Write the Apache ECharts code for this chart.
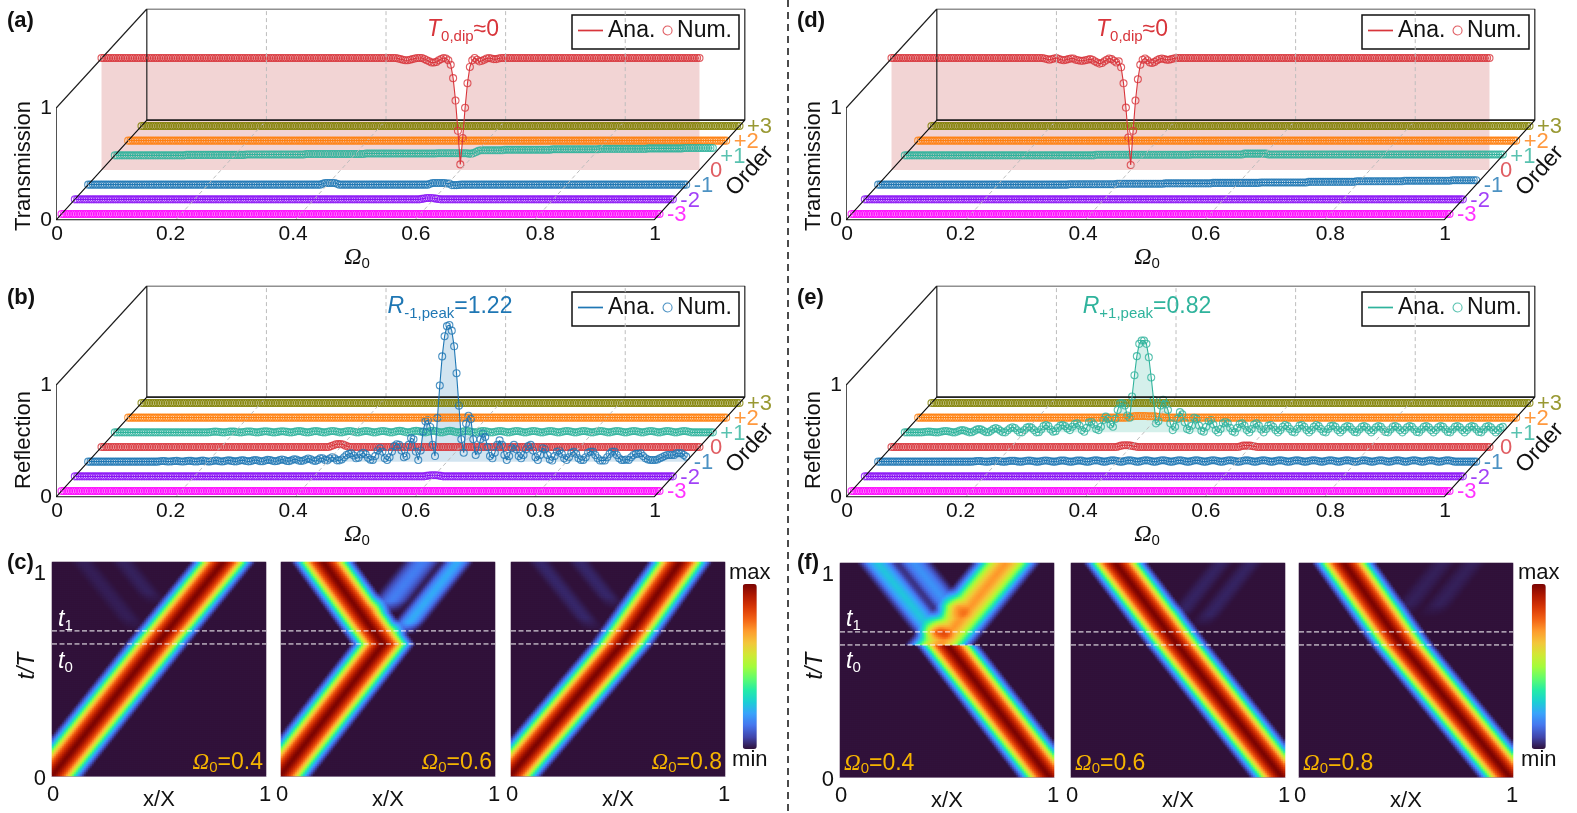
<!DOCTYPE html>
<html><head><meta charset="utf-8"><style>html,body{margin:0;padding:0;background:#fff}#c{width:1577px;height:813px}</style>
<script src="https://cdn.jsdelivr.net/npm/echarts@6/dist/echarts.min.js"></script></head><body><div id="c"></div>
<script>
// ---------- values ----------
const orderValues=[3,2,1,0,-1,-2,-3];
const orderNames={'3':'+3','2':'+2','1':'+1','0':'0','-1':'-1','-2':'-2','-3':'-3'};
const orderColors={'3':'#808000','2':'#ff7f0e','1':'#2fb39c','0':'#d8353b','-1':'#1f77b4','-2':'#8a12f5','-3':'#ff00ff'};
const xTicks=[0,0.2,0.4,0.6,0.8,1];
// omega step of the sampled points
const omegaStep=0.004, omegaCount=251;
// patches: [first sample index, [values]]
const T0a=[[124,[.995,.99,.985,.98,.98,.985,.99,.995,1,1,1,.99,.98,.97,.96,.96,.965,.98,.99,1,.995,.98,.94,.82,.62,.35,.05,.285,.556,.775,.92,.98,1,.985,.97,.975,.985,.995,1,.995,.99,.99,.995]]];
const Tp1a=[[0,[0]],[30,Array(25).fill(.004)],[55,Array(25).fill(.008)],[80,Array(25).fill(.012)],[105,Array(30).fill(.016)],[135,Array(13).fill(.019)],[148,[.015,.015,.02,.03,.04]],[153,Array(10).fill(.045)],[163,Array(20).fill(.05)],[183,Array(20).fill(.054)],[203,Array(20).fill(.058)],[223,Array(15).fill(.062)],[238,Array(13).fill(.066)]];
const Tm1a=[[98,[.008,.015,.015,.015,.015,.015,.008]],[143,[.008,.015,.015,.015,.015,.015,.015,.01,.01,-.004,-.004,-.004,-.002]]];
const Tm2a=[[145,[.004,.008,.012,.012,.012,.01,.006,.003]]];
const T0d=[[64,[.995,.99,.985,.99,.995,1,.99,.985,.98,.985,.99,.995,.995,.985,.98,.975,.975,.98,.985,.99,.985,.97,.96,.95,.955,.97,.985,.995,.99,.975,.96,.97,.917,.774,.557,.29,.045,.35,.62,.81,.94,.985,.995,.98,.96,.955,.965,.98,.99,.995,.99,.985,.985,.99,.995]]];
const Tp1d=[[80,Array(40).fill(.005)],[120,Array(22).fill(.008)],[142,Array(10).fill(.015)],[152,Array(99).fill(.008)]];
const Tm1d=[[80,Array(20).fill(.004)],[100,Array(20).fill(.008)],[120,Array(20).fill(.012)],[140,Array(20).fill(.016)],[160,Array(20).fill(.02)],[180,Array(20).fill(.025)],[200,Array(20).fill(.03)],[220,Array(20).fill(.035)],[240,Array(11).fill(.04)]];
const Rm1b=[[30,[.004,.006,.005,.002,.001,.003,.006,.007,.004,.001,.002,.005,.008,.007,.003,.001,.003,.007,.009,.006,.002,.002,.006,.01,.009,.004,.002,.005,.01,.012,.007,.003,.003,.008,.013,.012,.006,.003,.005,.012,.015,.01,.004,.004,.01,.016,.015,.008,.004,.006,.014,.02,.015,.006,.005,.012,.021,.019,.01,.006,.01,.02,.028,.022,.01,.006,.016,.03,.03,.016]],
[100,[.012,.028,.04,.03,.012,.012,.02,.04,.06,.07,.075,.055,.03,.035,.065,.08,.065,.035,.018,.015,.05,.10,.12,.09,.03,.015,.04,.09,.14,.155,.15,.10,.04,.05,.15,.21,.20,.09,.015,.10,.27,.36,.37,.31,.15,.05,.39,.68,.94,1.12,1.21,1.22,1.17,1.03,.79,.50,.20,.08,.34,.41,.38,.20,.06,.10,.20,.25,.22,.13,.05,.03,.08,.15,.19,.15,.06,.015,.05,.12,.15,.11,.05,.03,.06,.11,.14,.15,.10,.04,.015,.06,.12,.11,.06,.02,.01,.05,.09,.10,.07,.03,.015,.04,.08,.09,.07,.03,.015,.015,.04,.08,.09,.09,.06,.03,.01,.01,.01,.04,.07,.09,.09,.06,.03,.015,.015,.02,.015,.04,.06,.07,.07,.075,.05,.03,.02,.015,.015,.015,.02,.03,.04,.05,.06,.06,.06,.06,.075,.075,.075,.06,.045]]];
const R0b=[[96,[.008,.016,.024,.026,.026,.022,.012,.004]]];
const Rm2b=[[147,[.004,.008,.01,.01,.01,.008,.004]]];
const lowRipple=[[40,[.002,.005,.006,.005,.002,0,0,.003,.006,.007,.006,.003,0,0,.003,.007,.008,.007,.003,0,0,.004,.008,.009,.008,.004,0,0,.004,.008,.01,.008,.004,0,0,.004,.009,.011,.009,.004,0,0,.004,.009,.011,.009,.004,0,0,.005,.01,.012,.01,.005,0,0,.005,.01,.012,.01,.005,0,0,.005,.01,.012,.01,.005,0,0,.005,.01,.012,.01,.005,0,0,.005,.011,.013,.011,.005,0,0,.005,.011,.013,.011,.005,0,0,.005,.011,.013,.011,.005,0,0,.005,.011,.013,.011,.005,0,0,.005,.01,.013,.01,.005,0,0,.005,.01,.012,.01,.005,0,0,.005,.01,.012,.01,.005,0,0,.005,.01,.012,.01,.005,0,0,.005,.01,.012,.01,.005,0,0,.005,.01,.012,.01,.005,0,0,.005,.01,.012,.01,.005,0,0,.005,.01,.012,.01,.005,0,0,.005,.01,.012,.01,.005,0,0,.005,.01,.012,.01,.005,0,0,.005,.01,.012,.01,.005,0,0,.005,.01,.012,.01,.005,0,0,.005,.01,.012,.01,.005,0,0,.005,.01,.012,.01,.005,0]]];
const Rp1e=[[7,[0,.002,.005,.006,.005,.002,0,0,.005,.01,.012,.01,.005,0,0,.008,.016,.02,.016,.008,0,.001,.012,.024,.03,.024,.012,.001,.001,.014,.03,.038,.03,.014,.001,0,.018,.037,.045,.038,.018,0,0,.02,.042,.05,.04,.02,0,.001,.025,.055,.065,.055,.025,.006,.01,.04,.06,.065,.055,.035,.02,.05,.075,.08,.06,.02,.005,.04,.09,.095,.07,.03,.02,.05,.11,.14,.12,.07,.05,.12,.2,.26,.26,.24,.15,.13,.32,.51,.68,.79,.82,.82,.79,.67,.49,.29,.08,.10,.24,.29,.25,.2,.08,.02,.05,.12,.18,.16,.09,.03,.02,.06,.13,.12,.06,.015,.006,.05,.10,.11,.07,.02,0,.03,.08,.095,.08,.04,.01,0,.04,.075,.08,.06,.02,0,.03,.07,.08,.06,.025,0,.03,.06,.065,.05,.02,0,.02,.05,.065,.055,.03,.005,0,.03,.06,.065,.05,.02,0,.02,.05,.065,.055,.03,.005,0,.03,.055,.06,.05,.02,0,.02,.045,.055,.05,.025,.003,0,.025,.05,.055,.045,.02,0,.02,.045,.055,.05,.025,.003,0,.025,.05,.055,.045,.02,0,.02,.045,.055,.05,.025,.003,0,.025,.05,.055,.045,.02,0,.02,.045,.055,.05,.025,.003,0,.025,.05,.055,.045,.02,0,.02,.045,.055,.05,.025,.003,0,.025,.05,.055,.045,.02,0,.02,.04,.05]]];
const R0e=[[95,[.006,.012,.015,.015,.015,.012,.008,.004]],[146,[.006,.012,.012,.012,.012,.008,.004]]];
const Rp2e=[[88,[.004,.008,.012,.015,.015,.015,.015,.015,.012,.012,.012,.012,.008,.008,.004]]];
// peak / dip annotations
const annotationValues={a:'≈0',b:'=1.22',d:'≈0',e:'=0.82'};
// series table per panel: [base value, patches]
const panelSeries={
 a:{'3':[0,[]],'2':[0,[]],'1':[0,Tp1a],'0':[1,T0a],'-1':[0,Tm1a],'-2':[0,Tm2a],'-3':[0,[]]},
 b:{'3':[0,[]],'2':[0,[]],'1':[0,lowRipple],'0':[0,R0b],'-1':[0,Rm1b],'-2':[0,Rm2b],'-3':[0,[]]},
 d:{'3':[0,[]],'2':[0,[]],'1':[0,Tp1d],'0':[1,T0d],'-1':[0,Tm1d],'-2':[0,[]],'-3':[0,[]]},
 e:{'3':[0,[]],'2':[0,Rp2e],'1':[0,Rp1e],'0':[0,R0e],'-1':[0,lowRipple],'-2':[0,[]],'-3':[0,[]]}
};
// heat map beams: [t start, x at start, t end, x at end, amplitude, width, soft start]
const t0Line=0.617, t1Line=0.678;
const beamProfile=[1,.985,.96,.925,.885,.84,.79,.72,.65,.57,.48,.39,.30,.22,.15,.09,.04,0];
const heatC1=[[0,0,.617,.49,1,.05,0],[.617,.49,1,.80,1,.05,0],[.68,.404,1,.148,.018,.021,.06],[.8,.496,1,.336,.022,.021,.06]];
const heatC2=[[0,-.005,.617,.478,1,.05,0],[.617,.478,1,.2,1,.05,0],[.76,.468,1,.66,.16,.032,.06],[.66,.553,1,.825,.23,.026,.06]];
const heatC3=[[0,-.006,.617,.518,1,.05,0],[.617,.518,1,.79,1,.05,0],[.68,.393,1,.137,.03,.02,.06],[.78,.499,1,.323,.03,.02,.06]];
const heatF1=[[0,.98,.617,.505,1,.05,0],[.617,.465,1,.775,.72,.054,0],[.64,.466,1,.178,.27,.033,.04],[.74,.557,1,.349,.19,.031,.06]];
const heatF2=[[0,.987,.617,.50,1,.05,0],[.617,.50,1,.21,1,.05,0],[.72,.476,1,.70,.025,.021,.06],[.7,.6,1,.84,.025,.021,.06]];
const heatF3=[[0,.987,.617,.483,1,.05,0],[.617,.483,1,.213,1,.05,0],[.75,.47,1,.67,.02,.023,.06],[.75,.61,1,.81,.02,.023,.06]];
const turbo=['#30123b','#4145ab','#4675ed','#39a2fc','#1bcfd4','#24eca6','#61fc6c','#a4fc3b','#d1e834','#f3c63a','#fe9b2d','#f36315','#d93806','#b11901','#7a0403'];
const heatTitles=['0.4','0.6','0.8'];

// ---------- layout ----------
const SX=598, SZ=112, WID=688, HGT=211;
const xOff=k=>44.5+13.33*k, yOff=k=>50+14.67*k;
const project=(om,k,v)=>[om+xOff(k)/SX, v+yOff(k)/SZ];
const omegas=Array.from({length:omegaCount},(_,i)=>+(i*omegaStep).toFixed(3));
const expand=(base,patches)=>{const a=omegas.map(()=>base);patches.forEach(([s,vals])=>vals.forEach((v,i)=>{if(s+i<a.length)a[s+i]=v}));return a};
const series=[],grid=[],xAxis=[],yAxis=[],legend=[],graphic=[];
const FONT='"Liberation Sans",Arial,sans-serif';
const SERIF='"Liberation Serif",serif';
const meas=document.createElement('canvas').getContext('2d');
function textEl(x,y,t,font,fill,opt){opt=opt||{};return {type:'text',x:x,y:y,z:100,silent:true,rotation:opt.rotation||0,style:{text:t,font:font,fill:fill,textAlign:opt.align||'left',textVerticalAlign:'middle',align:opt.align||'left',verticalAlign:'middle'}}}
function runText(cx,y,parts,color,align){const fonts=parts.map(p=>`${p.st||''} ${p.size}px ${p.fam||FONT}`);let w=0;const ws=parts.map((p,i)=>{meas.font=fonts[i];const m=meas.measureText(p.t).width;w+=m;return m});let x=align==='left'?cx:align==='right'?cx-w:cx-w/2;parts.forEach((p,i)=>{graphic.push(textEl(x,y+(p.dy||0),p.t,fonts[i],color));x+=ws[i]})}
function addFrameLine(g,pts,color,width,dash){series.push({type:'line',xAxisIndex:g,yAxisIndex:g,data:pts,symbol:'none',silent:true,lineStyle:{color:color,width:width,type:dash||'solid',cap:'butt'},animation:false})}
const tickPad={'0.2':[0,12,0,0],'0.4':[0,6,0,0],'0.8':[0,0,0,10]};

function addPanel(id,x0,y0,title,hi,label,annCenter,annParts){
 const g=grid.length;
 grid.push({left:x0,top:y0-HGT,width:WID,height:HGT,outerBoundsMode:'none'});
 xAxis.push({type:'value',gridIndex:g,min:0,max:WID/SX,interval:.2,axisLine:{show:false},axisTick:{show:false},splitLine:{show:false},
  axisLabel:{margin:4,fontSize:21,fontFamily:FONT,color:'#111',
   formatter:v=>{if(!xTicks.some(t=>Math.abs(t-v)<1e-6))return '';if(Math.abs(v)<1e-6)return '0';if(Math.abs(v-1)<1e-6)return '1';const s=v.toFixed(1);return `{p${s.replace('.','')}|${s}}`},
   rich:{p02:{fontSize:21,fontFamily:FONT,padding:tickPad['0.2']},p04:{fontSize:21,fontFamily:FONT,padding:tickPad['0.4']},p06:{fontSize:21,fontFamily:FONT},p08:{fontSize:21,fontFamily:FONT,padding:tickPad['0.8']}}}});
 yAxis.push({type:'value',gridIndex:g,min:0,max:HGT/SZ,interval:1,axisLine:{show:false},axisTick:{show:false},splitLine:{show:false},
  axisLabel:{margin:5,fontSize:21,fontFamily:FONT,color:'#111',formatter:v=>v<=1?String(v):''}});
 const D=3.4;
 [.2,.4,.6,.8].forEach(t=>{
  addFrameLine(g,[project(t,-D,0),project(t,D,0)],'#bdbdbd',1,[4,3]);
  const bk=project(t,D,0);addFrameLine(g,[bk,[bk[0],HGT/SZ]],'#bdbdbd',1,[4,3]);
 });
 const A=project(0,-D,0),B=project(1,-D,0),C=project(1,D,0),E=project(0,D,0);
 const top=HGT/SZ;
 addFrameLine(g,[[A[0],A[1]],[A[0],1],[E[0],top],[C[0],top],[C[0],C[1]],E,[E[0],top]],'#222',1.2);
 addFrameLine(g,[C,E,A,B,C],'#111',1.2);
 orderValues.forEach(k=>{
  const [base,patches]=panelSeries[id][k];
  const vals=expand(base,patches);
  const color=orderColors[k];
  const pts=vals.map((v,i)=>project(omegas[i],k,v));
  if(k===hi){
   const basePt=[project(omegas[0],k,0),project(omegas[omegaCount-1],k,0)];
   const poly=pts.concat([basePt[1],basePt[0]]);
   series.push({type:'custom',xAxisIndex:g,yAxisIndex:g,silent:true,animation:false,coordinateSystem:'cartesian2d',data:[poly[0]],encode:{x:0,y:1},clip:false,
    renderItem:(p,api)=>({type:'polygon',shape:{points:poly.map(q=>api.coord(q))},style:{fill:k===0?'#c02a2a':color,opacity:.2}})});
  }
  series.push({type:'line',name:k===hi?'Ana.|'+id:undefined,xAxisIndex:g,yAxisIndex:g,data:pts,symbol:'none',silent:true,animation:false,lineStyle:{color:color,width:1.1},itemStyle:{color:color}});
  series.push({type:'scatter',name:k===hi?'Num.|'+id:undefined,xAxisIndex:g,yAxisIndex:g,data:pts,symbol:'circle',symbolSize:7,silent:true,animation:false,itemStyle:{color:'rgba(0,0,0,0)',borderColor:color,borderWidth:1.1}});
 });
 series.push({type:'scatter',xAxisIndex:g,yAxisIndex:g,symbolSize:1,silent:true,animation:false,itemStyle:{color:'rgba(0,0,0,0)'},
  data:orderValues.map(k=>({value:project(1,k,-.012),label:{show:true,position:'right',distance:k===0?10:7,formatter:orderNames[k],fontSize:22,fontFamily:FONT,color:orderColors[k]}}))});
 const c=orderColors[hi];
 const lx=x0+515, ly=y0-205;
 graphic.push({type:'rect',z:3,silent:true,shape:{x:lx,y:ly,width:167,height:34},style:{fill:'#fff',stroke:'#111',lineWidth:1.5}});
 legend.push({z:10,left:lx+6,top:ly+4,padding:0,itemWidth:25,itemHeight:1.7,selectedMode:false,data:[{name:'Ana.|'+id,icon:'rect',itemStyle:{color:c,borderWidth:0},lineStyle:{width:0}}],formatter:n=>n.split('|')[0],textStyle:{fontSize:23,fontFamily:FONT,color:'#111'}});
 legend.push({z:10,left:lx+90.5,top:ly+4,padding:0,itemWidth:9,itemHeight:9,selectedMode:false,data:[{name:'Num.|'+id,icon:'circle',itemStyle:{color:'rgba(0,0,0,0)',borderColor:c,borderWidth:1.1}}],formatter:n=>n.split('|')[0],textStyle:{fontSize:23,fontFamily:FONT,color:'#111'}});
 graphic.push(textEl(x0-33,y0-(id==='a'||id==='d'?54:57),title,`22px ${FONT}`,'#111',{rotation:Math.PI/2,align:'center'}));
 graphic.push(textEl(x0+693,y0-49,'Order',`23px ${FONT}`,'#111',{rotation:.84,align:'center'}));
 graphic.push(textEl(x0-50,y0-199,label,`bold 22px ${FONT}`,'#111'));
 runText(x0+300,y0+38,[{t:'Ω',size:24,st:'italic',fam:SERIF},{t:'0',size:15,dy:6}],'#111');
 runText(annCenter,y0-190,annParts,c);
}
const ann=(a,b,v)=>[{t:a,size:23,st:'italic'},{t:b,size:15,dy:7},{t:v,size:23}];
addPanel('a',57,220,'Transmission',0,'(a)',463,ann('T','0,dip',annotationValues.a));
addPanel('b',57,497,'Reflection',-1,'(b)',450,ann('R','-1,peak',annotationValues.b));
addPanel('d',847,220,'Transmission',0,'(d)',1132,ann('T','0,dip',annotationValues.d));
addPanel('e',847,497,'Reflection',1,'(e)',1147,ann('R','+1,peak',annotationValues.e));

// heat maps
const CELLS=107, cats=Array.from({length:CELLS},(_,i)=>i);
function profile(d){const u=Math.abs(d)/.01;const i=Math.floor(u);if(i>=beamProfile.length-1)return 0;return beamProfile[i]+(beamProfile[i+1]-beamProfile[i])*(u-i)}
function heatCells(beams){const out=[];for(let r=0;r<CELLS;r++){const t=(r+.5)/CELLS;for(let c=0;c<CELLS;c++){const x=(c+.5)/CELLS;let v=0;
  beams.forEach(([ts,xs,te,xe,amp,w,soft])=>{if(t<ts||t>te)return;const cen=xs+(xe-xs)*(t-ts)/(te-ts);const fade=soft?Math.min(1,(t-ts)/soft):1;v+=amp*fade*profile((x-cen)*.055/w)});
  out.push([c,r,+Math.min(1,v).toFixed(3)])}}return out}
const heatIdx=[[],[]];
function addHeat(side,left,top,beams,showY,title,titleAlign){
 const g=grid.length;
 grid.push({left:left,top:top,width:214,height:214,outerBoundsMode:'none'});
 xAxis.push({type:'category',gridIndex:g,data:cats,name:'x/X',nameLocation:'middle',nameGap:24,nameMoveOverlap:false,nameTextStyle:{fontSize:22,fontFamily:FONT,color:'#111',verticalAlign:'middle'},
  axisLine:{show:true,lineStyle:{color:'#a596ad',width:1}},axisTick:{show:false},splitLine:{show:false},
  axisLabel:{margin:8,fontSize:22,fontFamily:FONT,color:'#111',interval:0,formatter:(v,i)=>i===0?'0':i===CELLS-1?'1':''}});
 yAxis.push({type:'category',gridIndex:g,data:cats,axisLine:{show:false},axisTick:{show:false},splitLine:{show:false},
  axisLabel:{show:showY,margin:6,fontSize:22,fontFamily:FONT,color:'#111',interval:0,formatter:(v,i)=>i===0?'{l|0}':i===CELLS-1?'1':'',rich:{l:{fontSize:22,fontFamily:FONT,padding:[7,0,0,0]}},verticalAlignMaxLabel:'top'}});
 heatIdx[side].push(series.length);
 series.push({type:'heatmap',xAxisIndex:g,yAxisIndex:g,data:heatCells(beams),progressive:0,silent:true,animation:false,itemStyle:{borderWidth:0}});
 const g2=grid.length;
 grid.push({left:left,top:top,width:214,height:214,outerBoundsMode:'none'});
 xAxis.push({type:'value',gridIndex:g2,min:0,max:1,show:false});
 yAxis.push({type:'value',gridIndex:g2,min:0,max:1,show:false});
 [t0Line,t1Line].forEach(t=>series.push({type:'line',xAxisIndex:g2,yAxisIndex:g2,data:[[0,t],[1,t]],symbol:'none',silent:true,animation:false,z:5,lineStyle:{color:'#fff',width:1,type:[5,2.5]}}));
 const parts=[{t:'Ω',size:23,st:'italic',fam:SERIF},{t:'0',size:15,dy:5},{t:'='+title,size:23}];
 if(titleAlign==='right')runText(left+211,top+201,parts,'#f5b400','right');else runText(left+4,top+201,parts,'#f5b400','left');
}
const heatLeftC=[52,281,511], heatLeftF=[840,1071,1299];
addHeat(0,heatLeftC[0],562,heatC1,true,heatTitles[0],'right');
addHeat(0,heatLeftC[1],562,heatC2,false,heatTitles[1],'right');
addHeat(0,heatLeftC[2],562,heatC3,false,heatTitles[2],'right');
addHeat(1,heatLeftF[0],563,heatF1,true,heatTitles[0],'left');
addHeat(1,heatLeftF[1],563,heatF2,false,heatTitles[1],'left');
addHeat(1,heatLeftF[2],563,heatF3,false,heatTitles[2],'left');
const visualMap=[[0,729],[1,1518]].map(([s,l])=>({type:'continuous',seriesIndex:heatIdx[s],dimension:2,min:0,max:1,calculable:false,orient:'vertical',left:l,top:562,itemWidth:14,itemHeight:165,text:['max','min'],textGap:0,textStyle:{fontSize:22,fontFamily:FONT,color:'#111'},inRange:{color:turbo},padding:0}));
[[7,563,'(c)',52],[797,563,'(f)',840]].forEach(([x,y,t,l])=>{
 graphic.push(textEl(x,y,t,`bold 22px ${FONT}`,'#111'));
 graphic.push(textEl(l-24,666,'t/T',`italic 23px ${FONT}`,'#111',{rotation:Math.PI/2,align:'center'}));
 runText(l+6,620,[{t:'t',size:23,st:'italic'},{t:'1',size:15,dy:6}],'#fff','left');
 runText(l+6,662,[{t:'t',size:23,st:'italic'},{t:'0',size:15,dy:6}],'#fff','left');
});
graphic.push({type:'line',z:100,silent:true,shape:{x1:788,y1:0,x2:788,y2:813},style:{stroke:'#111',lineWidth:1.5,lineDash:[7,5]}});

const chart=echarts.init(document.getElementById('c'),null,{renderer:'canvas'});
chart.setOption({animation:false,backgroundColor:'#fff',grid,xAxis,yAxis,series,legend,visualMap,graphic:{elements:graphic},tooltip:{show:false}});
</script></body></html>
